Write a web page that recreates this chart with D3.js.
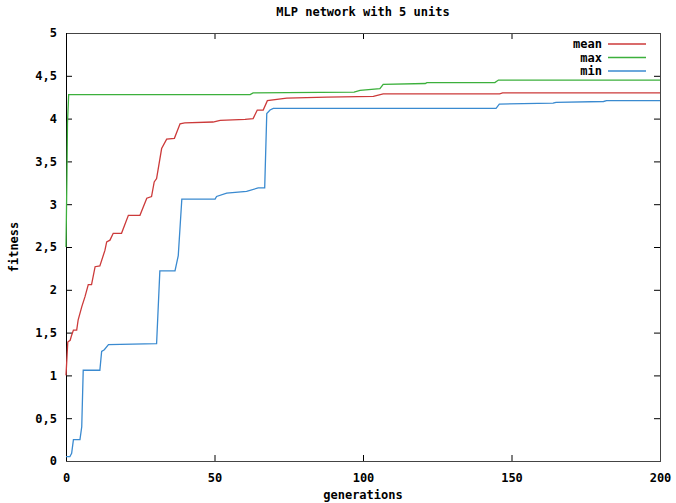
<!DOCTYPE html>
<html>
<head>
<meta charset="utf-8">
<script src="https://cdn.jsdelivr.net/npm/d3@7"></script>
<style>
  html, body { margin: 0; padding: 0; background: #fff; }
  svg text { font-family: "DejaVu Sans Mono", "Liberation Mono", monospace; font-weight: bold; fill: #000; }
</style>
</head>
<body>
<svg id="chart" width="676" height="503"></svg>
<script>
// ---- data ----
const title = "MLP network with 5 units";
const xLabel = "generations";
const yLabel = "fitness";
const xTicks = [0, 50, 100, 150, 200];
const yTicks = [0, 0.5, 1, 1.5, 2, 2.5, 3, 3.5, 4, 4.5, 5];
const seriesNames = ["mean", "max", "min"];
const seriesColors = ["#cc3a3a", "#3cb03c", "#3a8ad0"];

const meanData = [[0,1.0],[0.6,1.39],[1.4,1.41],[1.9,1.47],[2.5,1.53],[3.6,1.53],[4.1,1.65],[5.3,1.80],[6.4,1.92],[7.5,2.06],[8.6,2.06],[9.8,2.27],[11.4,2.28],[13.1,2.46],[13.7,2.56],[14.8,2.58],[15.9,2.66],[18.7,2.66],[21,2.87],[24.9,2.87],[27.2,3.07],[28.8,3.09],[29.7,3.26],[30.5,3.30],[32.2,3.65],[33.9,3.76],[36.5,3.77],[38.4,3.94],[40,3.95],[49.5,3.96],[51.9,3.98],[60.3,3.99],[63,4.0],[64.4,4.10],[66.4,4.10],[67.8,4.21],[74.3,4.24],[87.8,4.25],[103.5,4.26],[106.8,4.29],[146,4.29],[147,4.30],[200,4.30]];
const maxData = [[0,2.5],[0.3,3.3],[0.5,3.95],[0.9,4.28],[62,4.28],[63,4.30],[97,4.31],[99,4.33],[105.7,4.35],[106.8,4.40],[121,4.41],[121.5,4.42],[144.4,4.42],[145.6,4.45],[200,4.45]];
const minData = [[0,0.05],[1.3,0.05],[1.9,0.09],[2.5,0.25],[4.7,0.25],[5.3,0.40],[5.8,1.06],[11.4,1.06],[12,1.28],[12.9,1.30],[14.3,1.36],[30.5,1.37],[31.6,2.22],[36.7,2.22],[37.8,2.40],[39,3.06],[50.2,3.06],[50.7,3.09],[54.1,3.13],[60.8,3.15],[64.7,3.19],[66.9,3.19],[67.6,4.06],[68.7,4.10],[69.8,4.12],[144.8,4.12],[145.9,4.17],[164,4.18],[165,4.19],[181,4.20],[182,4.21],[200,4.21]];

const allSeries = [meanData, maxData, minData];

// ---- layout ----
const W = 676, H = 503;
const margin = { top: 33, right: 16, bottom: 42, left: 66 };
const w = W - margin.left - margin.right;
const h = H - margin.top - margin.bottom;

const svg = d3.select("#chart");
const g = svg.append("g").attr("transform", `translate(${margin.left},${margin.top})`);

const x = d3.scaleLinear().domain([0, 200]).range([0, w]);
const y = d3.scaleLinear().domain([0, 5]).range([h, 0]);

const fmtY = d => String(d).replace(".", ",");

// axes with inward ticks (mirrored on top and right)
const axisStyle = sel => {
  sel.select(".domain").remove();
  sel.selectAll(".tick line").attr("stroke", "#000").attr("stroke-width", 1);
  sel.selectAll(".tick text").attr("font-size", 12).attr("font-family", "DejaVu Sans Mono").attr("font-weight", "bold").attr("fill", "#000");
};

g.append("g").attr("transform", `translate(0,${h})`)
  .call(d3.axisBottom(x).tickValues(xTicks).tickSize(-6).tickPadding(12).tickFormat(d3.format("d")))
  .call(axisStyle);
g.append("g")
  .call(d3.axisTop(x).tickValues(xTicks).tickSize(-6).tickFormat(""))
  .call(axisStyle);
g.append("g")
  .call(d3.axisLeft(y).tickValues(yTicks).tickSize(-6).tickPadding(9).tickFormat(fmtY))
  .call(axisStyle);
g.append("g").attr("transform", `translate(${w},0)`)
  .call(d3.axisRight(y).tickValues(yTicks).tickSize(-6).tickFormat(""))
  .call(axisStyle);

// border
g.append("rect").attr("x", 0.5).attr("y", 0.5).attr("width", w).attr("height", h)
  .attr("fill", "none").attr("stroke", "#444").attr("stroke-width", 1);
g.append("line").attr("x1", 0.5).attr("x2", 0.5).attr("y1", 0).attr("y2", h)
  .attr("stroke", "#000").attr("stroke-width", 1);

// lines
const line = d3.line().x(d => x(d[0])).y(d => y(d[1]));
allSeries.forEach((data, i) => {
  g.append("path").datum(data)
    .attr("fill", "none")
    .attr("stroke", seriesColors[i])
    .attr("stroke-width", 1.3)
    .attr("d", line);
});

// legend
const legend = g.append("g");
seriesNames.forEach((name, i) => {
  const ly = 11 + i * 13.5;
  legend.append("text").attr("x", 536).attr("y", ly).attr("dy", "0.35em")
    .attr("text-anchor", "end").attr("font-size", 12).text(name);
  legend.append("line").attr("x1", 542).attr("x2", 580).attr("y1", ly).attr("y2", ly)
    .attr("stroke", seriesColors[i]).attr("stroke-width", 1.3);
});

// titles
svg.append("text").attr("x", margin.left + w / 2).attr("y", 12).attr("dy", "0.35em")
  .attr("text-anchor", "middle").attr("font-size", 12).text(title);
svg.append("text").attr("x", margin.left + w / 2).attr("y", 495).attr("dy", "0.35em")
  .attr("text-anchor", "middle").attr("font-size", 12).text(xLabel);
svg.append("text").attr("transform", `translate(14,${margin.top + h / 2}) rotate(-90)`)
  .attr("dy", "0.35em").attr("text-anchor", "middle").attr("font-size", 12).text(yLabel);
</script>
</body>
</html>
